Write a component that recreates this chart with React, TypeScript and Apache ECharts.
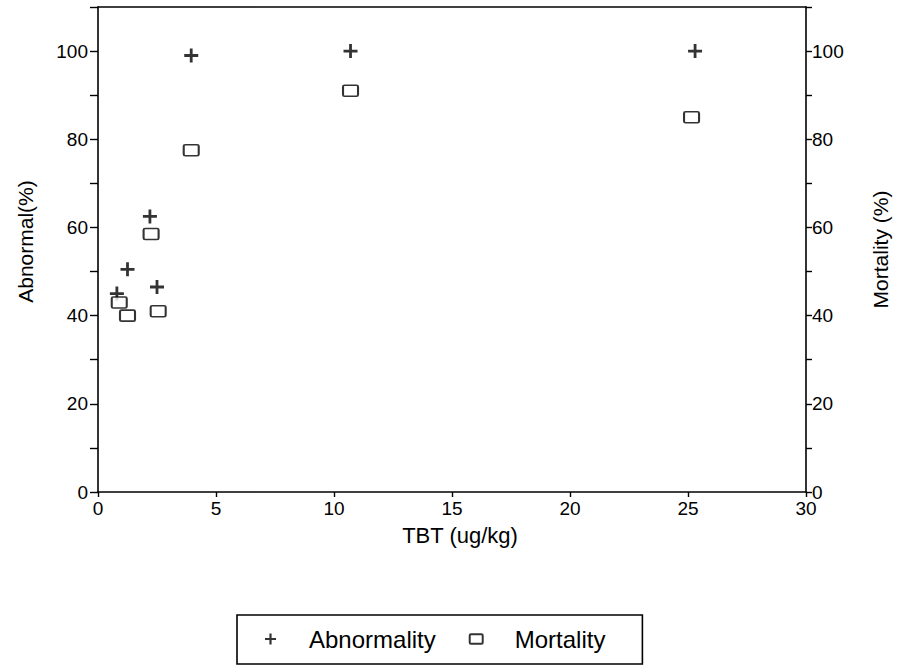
import React, { useEffect, useRef } from "react";
import * as echarts from "echarts";

const abnormalityX = [0.8, 1.25, 2.2, 2.5, 3.95, 10.7, 25.3];
const abnormalityY = [45, 50.5, 62.5, 46.5, 99, 100, 100];
const mortalityX = [0.9, 1.25, 2.25, 2.55, 3.95, 10.7, 25.15];
const mortalityY = [43, 40, 58.5, 41, 77.5, 91, 85];
const xTicks = { min: 0, max: 30, step: 5 };
const yTicks = { min: 0, max: 110, step: 10, labelStep: 20, labelMax: 100 };

const FONT = "'Liberation Sans', Arial, Helvetica, sans-serif";
const PLUS = "path://M5.2,0H7.8V5.2H13V7.8H7.8V13H5.2V7.8H0V5.2H5.2Z";
const BOX = "path://M1.5,0H13.5Q15,0 15,1.5V9.5Q15,11 13.5,11H1.5Q0,11 0,9.5V1.5Q0,0 1.5,0Z";

export default function App() {
  const ref = useRef<HTMLDivElement>(null);
  useEffect(() => {
    if (!ref.current) return;
    const chart = echarts.init(ref.current, undefined, { renderer: "svg" });
    const yLabelFmt = (v: number) =>
      v % yTicks.labelStep === 0 && v <= yTicks.labelMax ? String(v) : "";
    chart.setOption({
      animation: false,
      backgroundColor: "#fff",
      grid: { left: 98, right: 91, top: 7, bottom: 176, containLabel: false },
      xAxis: [
        {
          type: "value",
          min: xTicks.min,
          max: xTicks.max,
          interval: xTicks.step,
          name: "TBT (ug/kg)",
          nameLocation: "middle",
          nameGap: 32,
          nameTextStyle: { fontFamily: FONT, fontSize: 22, color: "#000", padding: [0, 0, 0, 16] },
          axisLine: { show: true, onZero: false, lineStyle: { color: "#000", width: 1.6 } },
          axisTick: { show: true, length: 5, lineStyle: { color: "#000", width: 1.4 } },
          axisLabel: { fontFamily: FONT, fontSize: 19, color: "#000", margin: 7 },
          splitLine: { show: false },
        },
        {
          type: "value",
          position: "top",
          min: xTicks.min,
          max: xTicks.max,
          axisLine: { show: true, onZero: false, lineStyle: { color: "#000", width: 1.6 } },
          axisTick: { show: false },
          axisLabel: { show: false },
          splitLine: { show: false },
        },
      ],
      yAxis: [
        {
          type: "value",
          position: "left",
          min: yTicks.min,
          max: yTicks.max,
          interval: yTicks.step,
          name: "Abnormal(%)",
          nameLocation: "middle",
          nameGap: 62,
          nameTextStyle: { fontFamily: FONT, fontSize: 21, color: "#000", padding: [0, 0, 0, 16] },
          axisLine: { show: true, onZero: false, lineStyle: { color: "#000", width: 1.6 } },
          axisTick: { show: true, inside: false, length: 8, lineStyle: { color: "#000", width: 1.4 } },
          axisLabel: { fontFamily: FONT, fontSize: 19, color: "#000", margin: 10, formatter: yLabelFmt },
          splitLine: { show: false },
        },
        {
          type: "value",
          position: "right",
          min: yTicks.min,
          max: yTicks.max,
          interval: yTicks.step,
          name: "Mortality (%)",
          nameLocation: "middle",
          nameGap: 64,
          nameRotate: 90,
          nameTextStyle: { fontFamily: FONT, fontSize: 21, color: "#000" },
          axisLine: { show: true, onZero: false, lineStyle: { color: "#000", width: 1.6 } },
          axisTick: { show: true, inside: false, length: 6, lineStyle: { color: "#000", width: 1.4 } },
          axisLabel: { fontFamily: FONT, fontSize: 19, color: "#000", margin: 6, formatter: yLabelFmt },
          splitLine: { show: false },
        },
      ],
      legend: {
        left: 237,
        top: 615,
        orient: "horizontal",
        borderColor: "#000",
        borderWidth: 1.6,
        padding: [12, 37, 13, 28],
        itemWidth: 13,
        itemHeight: 11,
        itemGap: 33,
        textStyle: { fontFamily: FONT, fontSize: 24, color: "#000", padding: [0, 0, 0, 27] },
        data: [
          { name: "Abnormality", icon: PLUS },
          { name: "Mortality", icon: BOX },
        ],
      },
      series: [
        {
          name: "Abnormality",
          type: "scatter",
          xAxisIndex: 0,
          yAxisIndex: 0,
          symbol: PLUS,
          symbolSize: 14,
          itemStyle: { color: "#000" },
          data: abnormalityX.map((x, i) => [x, abnormalityY[i]]),
        },
        {
          name: "Mortality",
          type: "scatter",
          xAxisIndex: 0,
          yAxisIndex: 1,
          symbol: BOX,
          symbolSize: [15, 11],
          itemStyle: { color: "#fff", borderColor: "#000", borderWidth: 1.8 },
          data: mortalityX.map((x, i) => [x, mortalityY[i]]),
        },
      ],
    });
    return () => chart.dispose();
  }, []);
  return (
    <div
      ref={ref}
      style={{ position: "fixed", left: 0, top: 0, width: 899, height: 668, background: "#fff" }}
    />
  );
}
